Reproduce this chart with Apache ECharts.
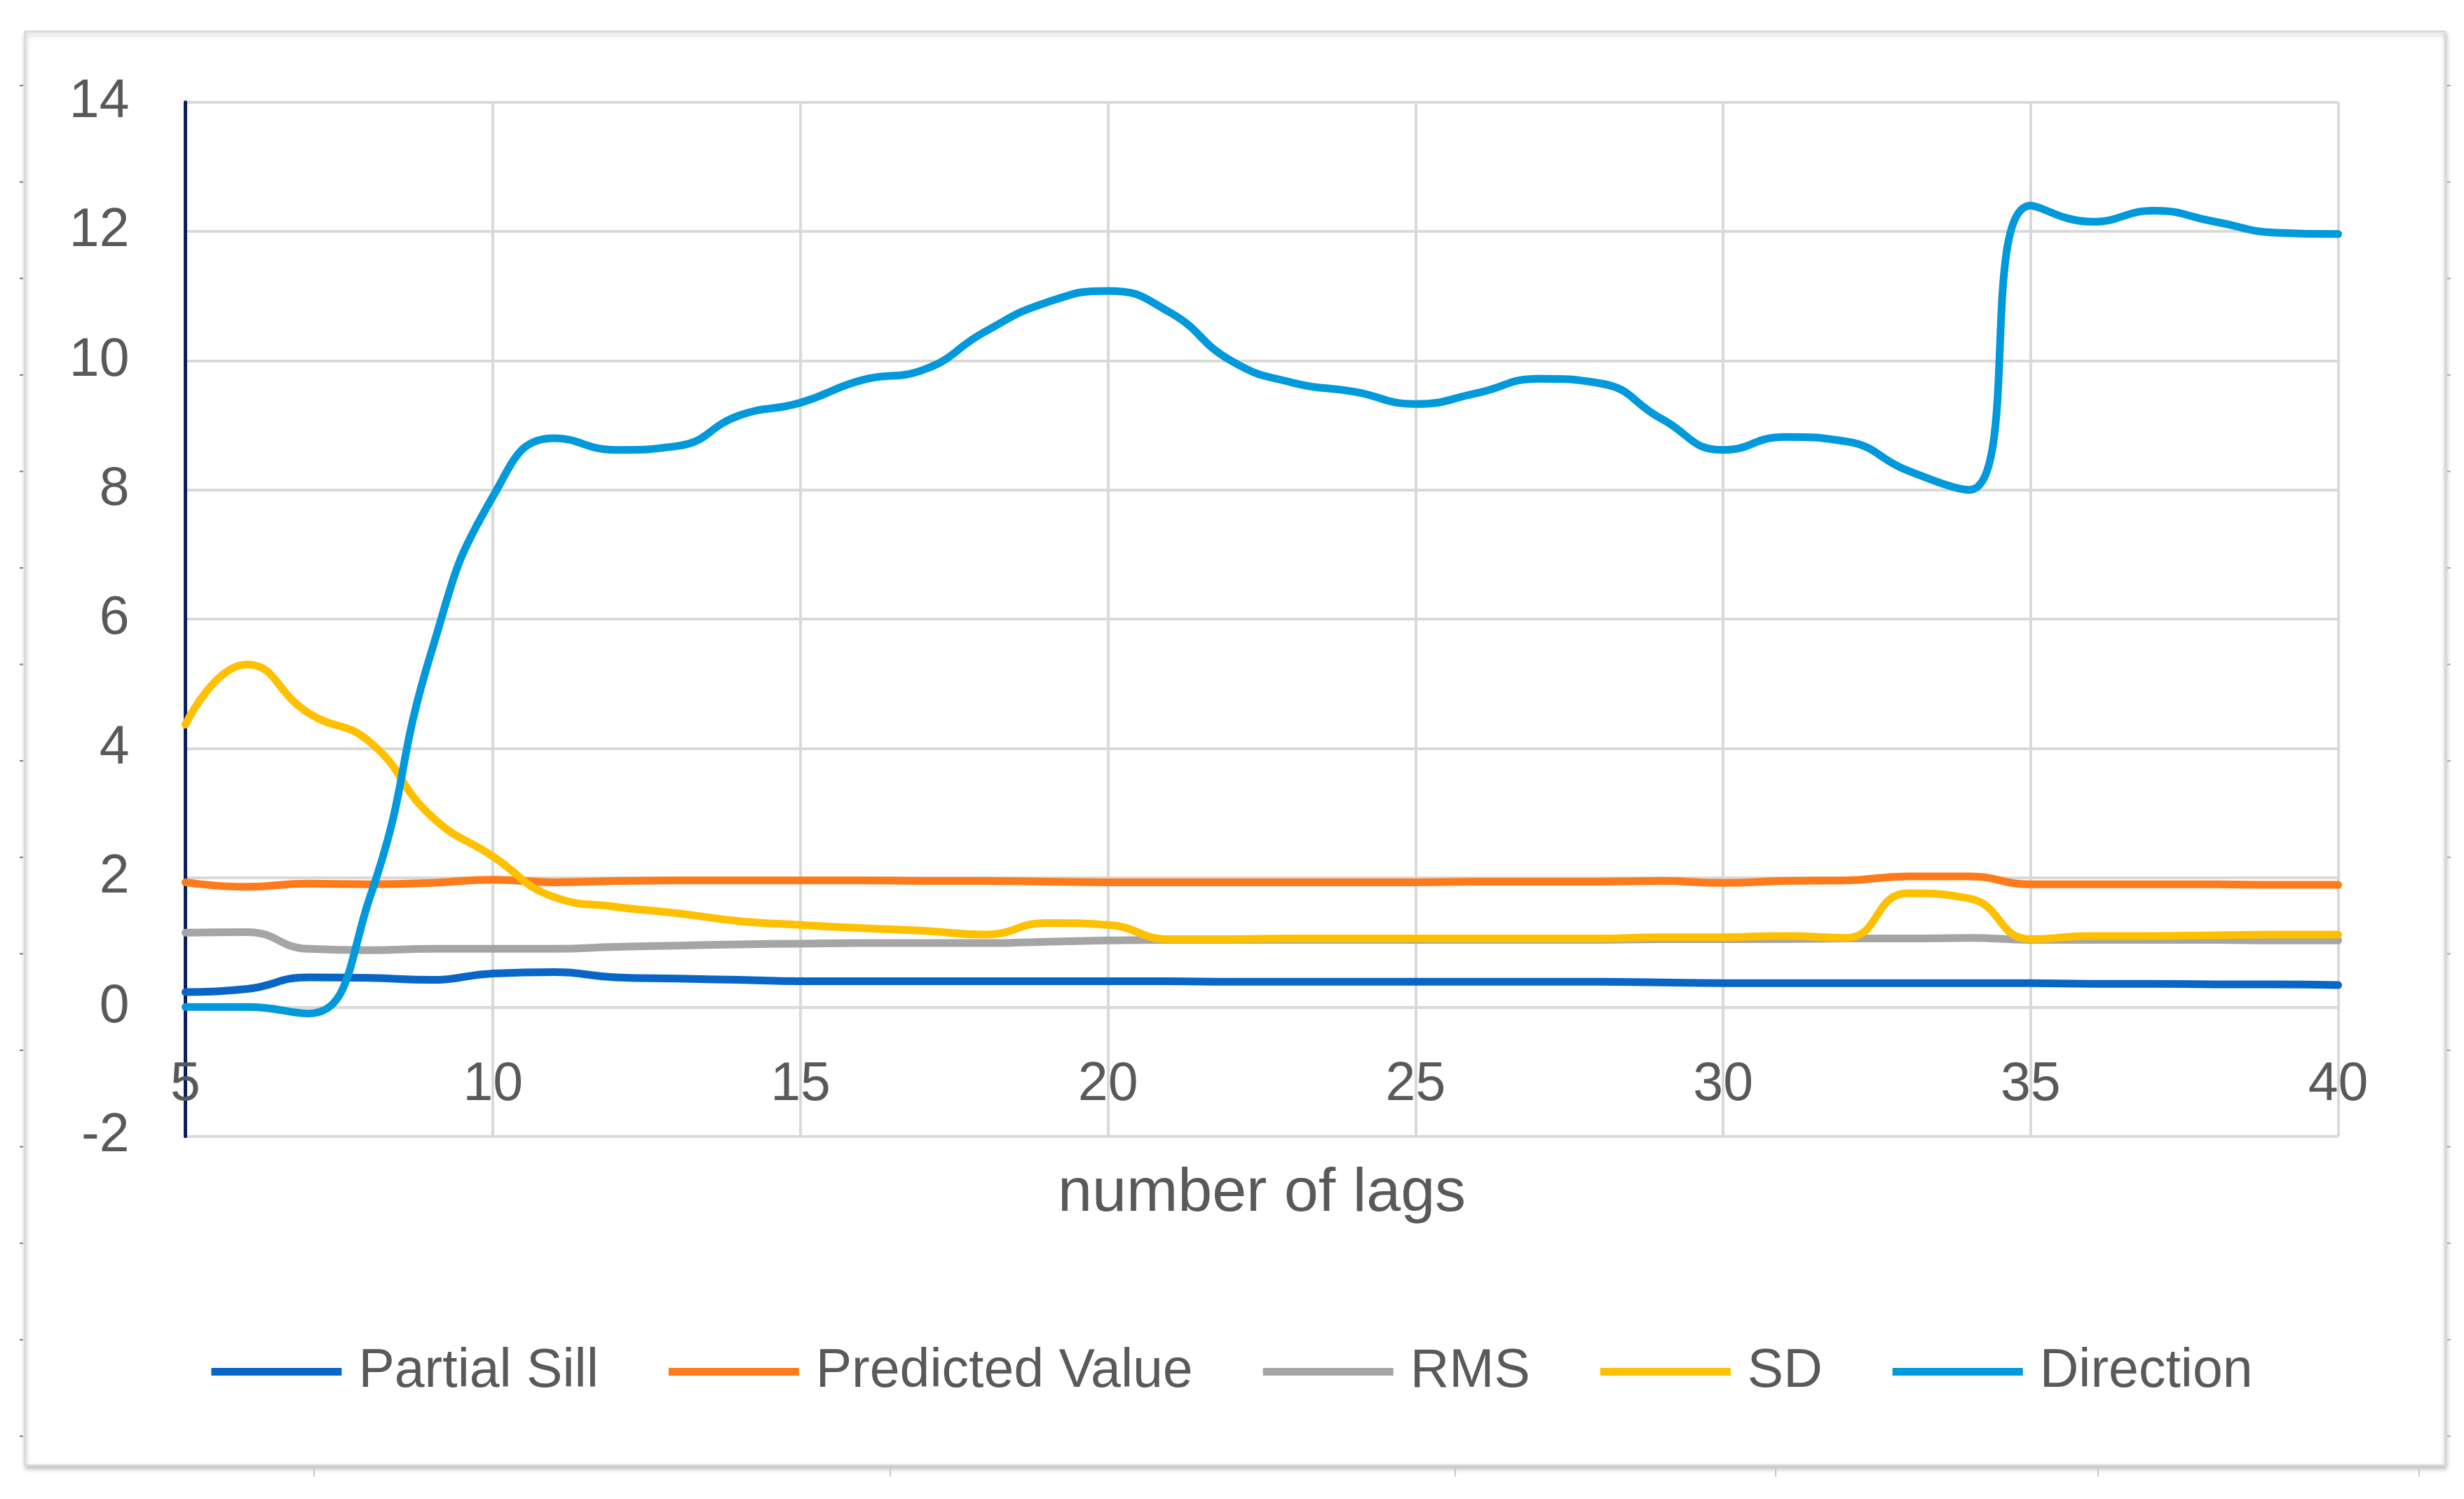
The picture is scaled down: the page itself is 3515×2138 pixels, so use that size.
<!DOCTYPE html>
<html>
<head>
<meta charset="utf-8">
<script src="https://cdn.jsdelivr.net/npm/echarts@6/dist/echarts.min.js"></script>
<style>
html,body{margin:0;padding:0;background:#fff;}
#c{width:3515px;height:2138px;}
</style>
</head>
<body>
<div id="c"></div>
<script>
const lags = [5,6,7,8,9,10,11,12,13,14,15,16,17,18,19,20,21,22,23,24,25,26,27,28,29,30,31,32,33,34,35,36,37,38,39,40];
const seriesNames = ['Partial Sill','Predicted Value','RMS','SD','Direction'];
const partialSill = [0.23,0.28,0.46,0.45,0.42,0.52,0.54,0.46,0.44,0.42,0.40,0.40,0.40,0.40,0.40,0.40,0.40,0.39,0.39,0.39,0.39,0.39,0.39,0.39,0.38,0.37,0.37,0.37,0.37,0.37,0.37,0.36,0.36,0.35,0.35,0.34];
const predictedValue = [1.93,1.86,1.91,1.90,1.92,1.97,1.93,1.95,1.96,1.96,1.96,1.96,1.95,1.95,1.94,1.93,1.93,1.93,1.93,1.93,1.93,1.94,1.94,1.94,1.95,1.92,1.95,1.96,2.02,2.02,1.90,1.90,1.90,1.90,1.89,1.89];
const rms = [1.15,1.16,0.90,0.88,0.90,0.90,0.90,0.93,0.95,0.97,0.98,0.99,0.99,0.99,1.01,1.03,1.04,1.04,1.04,1.04,1.04,1.04,1.04,1.04,1.05,1.05,1.05,1.06,1.06,1.07,1.04,1.04,1.04,1.04,1.03,1.03];
const sd = [4.37,5.30,4.55,4.10,2.95,2.33,1.70,1.55,1.45,1.33,1.27,1.22,1.18,1.12,1.30,1.27,1.05,1.05,1.06,1.06,1.06,1.06,1.06,1.06,1.08,1.08,1.10,1.07,1.76,1.68,1.05,1.10,1.10,1.11,1.12,1.12];
const direction = [0.00,0.00,-0.10,1.70,5.50,7.90,8.80,8.62,8.68,9.15,9.35,9.70,9.86,10.45,10.90,11.08,10.75,10.00,9.66,9.52,9.33,9.50,9.72,9.65,9.10,8.62,8.82,8.75,8.30,8.00,12.40,12.15,12.32,12.15,11.98,11.96];
const xTicks = [5,10,15,20,25,30,35,40];
const yTicks = [-2,0,2,4,6,8,10,12,14];
const xTitle = 'number of lags';

const colors = ['#0866C6','#FF7A1A','#A5A5A5','#FFC000','#0099DC'];
const values = [partialSill, predictedValue, rms, sd, direction];
const FONT = '"Liberation Sans", Arial, sans-serif';

const chart = echarts.init(document.getElementById('c'));

const deco = [];
deco.push({type:'rect', z:-5, shape:{x:36,y:45,width:3452,height:2045},
  style:{fill:'#fff', stroke:'#D9D9D9', lineWidth:3, shadowColor:'rgba(0,0,0,0.22)', shadowBlur:6, shadowOffsetY:4, shadowOffsetX:1}});
for (let k = 0; k < 15; k++) {
  const y = 122 + 137.6 * k;
  deco.push({type:'line', z:-4, shape:{x1:28,y1:y,x2:33,y2:y}, style:{stroke:'#777', lineWidth:2}});
  deco.push({type:'line', z:-4, shape:{x1:3491,y1:y,x2:3496,y2:y}, style:{stroke:'#aaa', lineWidth:2}});
}
[448,1270,2076,2533,2993,3451].forEach(x => {
  deco.push({type:'line', z:-4, shape:{x1:x,y1:2094,x2:x,y2:2106}, style:{stroke:'#C8C8C8', lineWidth:2}});
});

chart.setOption({
  backgroundColor: '#ffffff',
  animation: false,
  color: colors,
  textStyle: {fontFamily: FONT},
  graphic: {elements: deco},
  grid: {left: 264.5, right: 179.4, top: 145.7, bottom: 517.3, containLabel: false},
  legend: {
    data: seriesNames,
    bottom: 138,
    left: 'center',
    icon: 'rect',
    itemWidth: 186,
    itemHeight: 11,
    itemGap: 100,
    textStyle: {fontSize: 77, color: '#595959', fontFamily: FONT, padding: [0,0,0,19]}
  },
  xAxis: {
    type: 'value',
    min: 5, max: 40, interval: 5,
    name: xTitle,
    nameLocation: 'middle',
    nameGap: 38,
    nameTextStyle: {fontSize: 88, color: '#595959', fontFamily: FONT},
    axisLine: {show: false},
    axisTick: {show: false},
    axisLabel: {inside: true, margin: 34, fontSize: 77, color: '#595959', fontFamily: FONT,
      formatter: v => xTicks.includes(v) ? String(v) : ''},
    splitLine: {show: true, lineStyle: {color: '#D9D9D9', width: 4}}
  },
  yAxis: {
    type: 'value',
    min: -2, max: 14, interval: 2,
    axisLine: {show: true, onZero: false, lineStyle: {color: '#0B1F5E', width: 5}},
    axisTick: {show: false},
    axisLabel: {margin: 80, fontSize: 77, color: '#595959', fontFamily: FONT,
      formatter: v => yTicks.includes(v) ? String(v) : ''},
    splitLine: {show: true, lineStyle: {color: '#D9D9D9', width: 4}}
  },
  series: seriesNames.map((name, i) => ({
    name: name,
    type: 'line',
    data: lags.map((x, j) => [x, values[i][j]]),
    smooth: 0.5,
    showSymbol: false,
    symbol: 'none',
    lineStyle: {width: 11, color: colors[i], cap: 'round', join: 'round'},
    itemStyle: {color: colors[i]},
    z: 2 + i
  }))
});
</script>
</body>
</html>
